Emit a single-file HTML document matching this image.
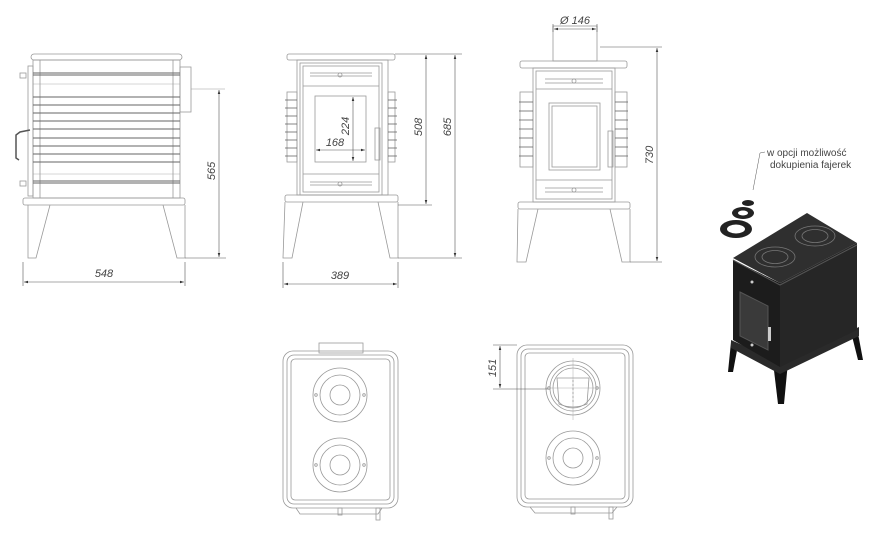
<!DOCTYPE html>
<html><head><meta charset="utf-8"><style>
html,body{margin:0;padding:0;background:#fff;width:880px;height:541px;overflow:hidden}
svg{display:block}
text{font-family:"Liberation Sans",sans-serif;font-style:italic;fill:#444;font-size:11px}
</style></head><body>
<svg width="880" height="541" viewBox="0 0 880 541" xmlns="http://www.w3.org/2000/svg">
<defs>
<marker id="a" markerWidth="8" markerHeight="6" refX="7" refY="3" orient="auto-start-reverse"><path d="M0,0.8 L7,3 L0,5.2z" fill="#333"/></marker>
</defs>
<g fill="none" stroke="#999" stroke-width="0.8">
<!-- SIDE VIEW -->
<rect x="31" y="54" width="151" height="6" rx="3"/>
<rect x="33" y="60" width="147" height="138"/>
<line x1="40" y1="60" x2="40" y2="198"/><line x1="173" y1="60" x2="173" y2="198"/>
<rect x="28" y="66" width="5" height="130"/>
<rect x="180" y="67" width="11" height="45"/>
<line x1="191" y1="89" x2="225" y2="89" stroke-width="0.5"/>
<g stroke="#666" stroke-width="1">
<line x1="33" y1="73" x2="180" y2="73"/><line x1="33" y1="75" x2="180" y2="75"/>
<line x1="33" y1="97" x2="180" y2="97"/><line x1="33" y1="105" x2="180" y2="105"/>
<line x1="33" y1="113" x2="180" y2="113"/><line x1="33" y1="121" x2="180" y2="121"/>
<line x1="33" y1="129" x2="180" y2="129"/><line x1="33" y1="138" x2="180" y2="138"/>
<line x1="33" y1="146" x2="180" y2="146"/><line x1="33" y1="154" x2="180" y2="154"/>
<line x1="33" y1="162" x2="180" y2="162"/>
<line x1="33" y1="181" x2="180" y2="181"/><line x1="33" y1="183" x2="180" y2="183"/>
</g>
<line x1="33" y1="84" x2="180" y2="84" stroke-width="0.4"/>
<line x1="33" y1="174" x2="180" y2="174" stroke-width="0.4"/>
<rect x="20" y="73" width="6" height="5"/><rect x="20" y="181" width="6" height="5"/>
<path d="M30,130 L20,132 L16,135 L16,158 L19,160" stroke="#555" stroke-width="1.5"/>
<rect x="23" y="198" width="162" height="7" rx="2"/>
<path d="M28,205 L28,258 L36,258 L50,205"/>
<path d="M185,205 L185,258 L177,258 L163,205"/>
<!-- FRONT VIEW -->
<rect x="287" y="54" width="108" height="6" rx="2"/>
<rect x="297" y="60" width="91" height="135"/>
<rect x="300" y="63" width="82" height="132"/>
<rect x="303" y="66" width="76" height="126"/>
<line x1="303" y1="86" x2="379" y2="86"/><line x1="303" y1="174" x2="379" y2="174"/>
<line x1="310" y1="73" x2="372" y2="73"/><line x1="310" y1="76" x2="372" y2="76"/>
<line x1="310" y1="182" x2="372" y2="182"/><line x1="310" y1="185" x2="372" y2="185"/>
<circle cx="340" cy="75" r="2"/><circle cx="340" cy="184" r="2"/>
<rect x="315" y="96" width="51" height="66"/>
<rect x="375" y="128" width="5" height="32"/>
<rect x="287" y="92" width="10" height="70"/><rect x="388" y="92" width="7" height="70"/>
<g stroke="#666"><line x1="285" y1="100" x2="297" y2="100"/><line x1="285" y1="108" x2="297" y2="108"/><line x1="285" y1="116" x2="297" y2="116"/><line x1="285" y1="124" x2="297" y2="124"/><line x1="285" y1="132" x2="297" y2="132"/><line x1="285" y1="140" x2="297" y2="140"/><line x1="285" y1="148" x2="297" y2="148"/><line x1="285" y1="156" x2="297" y2="156"/>
<line x1="388" y1="100" x2="397" y2="100"/><line x1="388" y1="108" x2="397" y2="108"/><line x1="388" y1="116" x2="397" y2="116"/><line x1="388" y1="124" x2="397" y2="124"/><line x1="388" y1="132" x2="397" y2="132"/><line x1="388" y1="140" x2="397" y2="140"/><line x1="388" y1="148" x2="397" y2="148"/><line x1="388" y1="156" x2="397" y2="156"/></g>
<rect x="285" y="195" width="113" height="7" rx="2"/>
<path d="M285,202 L283,258 L292,258 L303,202"/>
<path d="M398,202 L398,258 L390,258 L378,202"/>
<!-- FRONT VIEW 2 -->
<rect x="553" y="26" width="44" height="35"/>
<rect x="520" y="61" width="107" height="7" rx="2"/>
<rect x="533" y="68" width="82" height="134"/>
<rect x="536" y="71" width="76" height="128"/>
<line x1="536" y1="89" x2="612" y2="89"/><line x1="536" y1="180" x2="612" y2="180"/>
<line x1="545" y1="79" x2="603" y2="79"/><line x1="545" y1="83" x2="603" y2="83"/>
<line x1="545" y1="188" x2="603" y2="188"/><line x1="545" y1="192" x2="603" y2="192"/>
<circle cx="574" cy="81" r="2"/><circle cx="574" cy="190" r="2"/>
<rect x="549" y="103" width="51" height="67"/><rect x="552" y="106" width="45" height="61"/>
<rect x="608" y="131" width="5" height="36"/>
<rect x="520" y="92" width="13" height="75"/><rect x="615" y="92" width="12" height="75"/>
<g stroke="#666"><line x1="519" y1="102" x2="533" y2="102"/><line x1="519" y1="111" x2="533" y2="111"/><line x1="519" y1="120" x2="533" y2="120"/><line x1="519" y1="129" x2="533" y2="129"/><line x1="519" y1="138" x2="533" y2="138"/><line x1="519" y1="147" x2="533" y2="147"/><line x1="519" y1="156" x2="533" y2="156"/>
<line x1="615" y1="102" x2="628" y2="102"/><line x1="615" y1="111" x2="628" y2="111"/><line x1="615" y1="120" x2="628" y2="120"/><line x1="615" y1="129" x2="628" y2="129"/><line x1="615" y1="138" x2="628" y2="138"/><line x1="615" y1="147" x2="628" y2="147"/><line x1="615" y1="156" x2="628" y2="156"/></g>
<rect x="518" y="202" width="112" height="7" rx="2"/>
<path d="M518,209 L517,262 L526,262 L538,209"/>
<path d="M630,209 L630,262 L622,262 L610,209"/>
<!-- TOP VIEW LEFT -->
<rect x="319" y="343" width="44" height="10"/>
<rect x="283" y="351" width="115" height="157" rx="10"/>
<rect x="287" y="355" width="107" height="149" rx="7"/>
<rect x="291" y="359" width="99" height="141" rx="4"/>
<circle cx="340" cy="395" r="27"/><circle cx="340" cy="395" r="20"/><circle cx="340" cy="395" r="10"/>
<circle cx="340" cy="465" r="27"/><circle cx="340" cy="465" r="20"/><circle cx="340" cy="465" r="10"/>
<circle cx="316" cy="395" r="1.3"/><circle cx="364" cy="395" r="1.3"/><circle cx="316" cy="465" r="1.3"/><circle cx="364" cy="465" r="1.3"/>
<path d="M296,508 L300,514 L378,514 L382,508"/>
<rect x="338" y="508" width="4" height="7"/><rect x="376" y="508" width="4" height="12"/>
<!-- TOP VIEW RIGHT -->
<rect x="517" y="345" width="116" height="162" rx="10"/>
<rect x="521" y="349" width="108" height="154" rx="7"/>
<rect x="525" y="353" width="100" height="146" rx="4"/>
<circle cx="573" cy="388" r="27"/><circle cx="573" cy="388" r="23"/><circle cx="573" cy="388" r="20"/>
<path d="M557,378 L589,378 L587,404 Q573,410 559,404 Z"/>
<line x1="573" y1="358" x2="573" y2="420" stroke-width="0.4"/>
<line x1="545" y1="388" x2="600" y2="388" stroke-width="0.4"/>
<line x1="573" y1="380" x2="573" y2="402" stroke-dasharray="2,2"/>
<circle cx="549" cy="388" r="1.3"/><circle cx="597" cy="388" r="1.3"/>
<circle cx="573" cy="458" r="27"/><circle cx="573" cy="458" r="20"/><circle cx="573" cy="458" r="10"/>
<circle cx="549" cy="458" r="1.3"/><circle cx="597" cy="458" r="1.3"/>
<path d="M530,507 L535,513 L612,513 L617,507"/>
<rect x="571" y="507" width="4" height="7"/><rect x="609" y="507" width="4" height="12"/>
</g>
<!-- DIMENSIONS -->
<g stroke="#555" stroke-width="0.6" fill="none">
<line x1="23" y1="262" x2="23" y2="286"/><line x1="185" y1="262" x2="185" y2="286"/>
<line x1="24" y1="282" x2="184" y2="282" marker-start="url(#a)" marker-end="url(#a)"/>
<line x1="185" y1="258" x2="226" y2="258"/>
<line x1="219" y1="90" x2="219" y2="257" marker-start="url(#a)" marker-end="url(#a)"/>
<line x1="283" y1="262" x2="283" y2="288"/><line x1="398" y1="262" x2="398" y2="288"/>
<line x1="284" y1="284" x2="397" y2="284" marker-start="url(#a)" marker-end="url(#a)"/>
<line x1="395" y1="54" x2="462" y2="54"/><line x1="398" y1="205" x2="432" y2="205"/><line x1="398" y1="258" x2="462" y2="258"/>
<line x1="426" y1="55" x2="426" y2="204" marker-start="url(#a)" marker-end="url(#a)"/>
<line x1="455" y1="55" x2="455" y2="257" marker-start="url(#a)" marker-end="url(#a)"/>
<line x1="353" y1="97" x2="353" y2="161" marker-start="url(#a)" marker-end="url(#a)"/>
<line x1="316" y1="150" x2="365" y2="150" marker-start="url(#a)" marker-end="url(#a)"/>
<line x1="553" y1="24" x2="553" y2="32"/><line x1="597" y1="24" x2="597" y2="32"/>
<line x1="554" y1="29" x2="596" y2="29" marker-start="url(#a)" marker-end="url(#a)"/>
<line x1="600" y1="47" x2="662" y2="47"/><line x1="630" y1="262" x2="662" y2="262"/>
<line x1="657" y1="48" x2="657" y2="261" marker-start="url(#a)" marker-end="url(#a)"/>
<line x1="493" y1="345" x2="517" y2="345"/><line x1="493" y1="389" x2="548" y2="389"/>
<line x1="500" y1="346" x2="500" y2="388" marker-start="url(#a)" marker-end="url(#a)"/>
<path d="M765,152 L760,153 L753,190" stroke-width="0.5"/>
</g>
<text x="104" y="277" text-anchor="middle">548</text>
<text x="340" y="279" text-anchor="middle">389</text>
<text x="335" y="146" text-anchor="middle">168</text>
<text x="575" y="24" text-anchor="middle">Ø 146</text>
<text transform="translate(215,171) rotate(-90)" text-anchor="middle">565</text>
<text transform="translate(422,127) rotate(-90)" text-anchor="middle">508</text>
<text transform="translate(451,127) rotate(-90)" text-anchor="middle">685</text>
<text transform="translate(349,126) rotate(-90)" text-anchor="middle">224</text>
<text transform="translate(653,155) rotate(-90)" text-anchor="middle">730</text>
<text transform="translate(496,368) rotate(-90)" text-anchor="middle">151</text>
<text x="767" y="156" style="font-style:normal;font-size:10px">w opcji możliwość</text>
<text x="770" y="168" style="font-style:normal;font-size:10px">dokupienia fajerek</text>
<!-- 3D STOVE -->
<g>
<ellipse cx="748" cy="203" rx="6" ry="3" fill="#222"/>
<ellipse cx="743" cy="213" rx="11" ry="6" fill="#222"/><ellipse cx="743" cy="213" rx="5" ry="2.5" fill="#fff"/>
<ellipse cx="736" cy="229" rx="16" ry="9" fill="#222"/><ellipse cx="736" cy="229" rx="9" ry="4.5" fill="#fff"/>
<path d="M728,372 L733,372 L738,345 L731,342 Z" fill="#111"/>
<path d="M857,328 L863,360 L858,360 L851,332 Z" fill="#111"/>
<path d="M773,362 L778,404 L784,404 L788,362 Z" fill="#111"/>
<path d="M731,340 L731,348 L780,374 L859,336 L859,327 L780,362 Z" fill="#2a2a2a"/>
<path d="M733,260 L733,340 L780,367 L780,283 Z" fill="#1c1c1c"/>
<path d="M780,283 L857,243 L857,330 L780,367 Z" fill="#262626"/>
<path d="M733,258 L807,213 L857,243 L780,283 Z" fill="#2f2f2f"/>
<path d="M733,260 L780,285 L857,245" stroke="#555" stroke-width="1" fill="none"/>
<ellipse cx="775" cy="257" rx="20" ry="10" fill="none" stroke="#777" stroke-width="0.8"/>
<ellipse cx="775" cy="257" rx="13" ry="6.5" fill="none" stroke="#777" stroke-width="0.8"/>
<ellipse cx="815" cy="236" rx="20" ry="10" fill="none" stroke="#777" stroke-width="0.8"/>
<ellipse cx="815" cy="236" rx="13" ry="6.5" fill="none" stroke="#777" stroke-width="0.8"/>
<path d="M740,292 L768,306 L768,350 L740,336 Z" fill="#3a3a3a" stroke="#555"/>
<rect x="768" y="327" width="3" height="14" fill="#ccc"/>
<circle cx="752" cy="282" r="1.5" fill="#ccc"/><circle cx="752" cy="345" r="1.5" fill="#ccc"/>
</g>
</svg>
</body></html>
